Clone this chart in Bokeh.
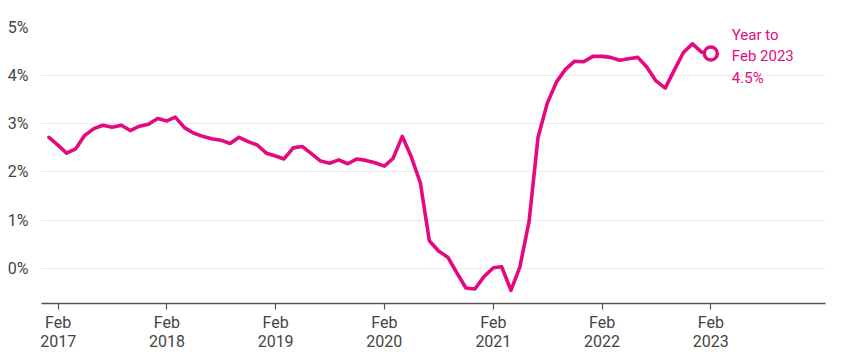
import pandas as pd
from bokeh.plotting import figure
from bokeh.models import (ColumnDataSource, FixedTicker, DatetimeTickFormatter,
                          Range1d, Label)
from bokeh.embed import file_html
from bokeh.resources import INLINE
from datetime import datetime

# ---- data ----
months = pd.date_range("2017-01-01", periods=74, freq="MS")
values = [
    # 2017
    2.72, 2.55, 2.39, 2.48, 2.76, 2.90, 2.97, 2.93, 2.97, 2.86, 2.95, 2.99,
    # 2018
    3.11, 3.06, 3.14, 2.92, 2.81, 2.74, 2.69, 2.66, 2.59, 2.72, 2.63, 2.56,
    # 2019
    2.39, 2.33, 2.27, 2.50, 2.53, 2.38, 2.23, 2.18, 2.25, 2.17, 2.27, 2.24,
    # 2020
    2.19, 2.12, 2.28, 2.74, 2.32, 1.77, 0.57, 0.36, 0.23, -0.09, -0.41, -0.43,
    # 2021
    -0.17, 0.01, 0.03, -0.46, 0.03, 0.98, 2.72, 3.43, 3.87, 4.13, 4.30, 4.29,
    # 2022
    4.40, 4.40, 4.38, 4.32, 4.35, 4.38, 4.18, 3.89, 3.74, 4.11, 4.48, 4.66,
    # 2023
    4.49, 4.46,
]
tick_years = [2017, 2018, 2019, 2020, 2021, 2022, 2023]
y_ticks = [0, 1, 2, 3, 4, 5]
y_tick_labels = ["0%", "1%", "2%", "3%", "4%", "5%"]
end_label = "Year to\nFeb 2023\n4.5%"

PINK = "#E5097F"
FONT = "Roboto"
TXT = "#444444"

def ms(d):
    return (pd.Timestamp(d) - pd.Timestamp("1970-01-01")) // pd.Timedelta("1ms")

src = ColumnDataSource(dict(x=months, y=values))
last = ColumnDataSource(dict(x=[months[-1]], y=[values[-1]]))

p = figure(frame_width=784, frame_height=276, x_axis_type="datetime",
           output_backend="svg", toolbar_location=None,
           x_range=Range1d(ms("2016-12-07"), ms("2024-02-21")),
           y_range=Range1d(-0.732, 5.0),
           min_border_left=41, min_border_top=27, min_border_right=8,
           min_border_bottom=0)
p.outline_line_color = None
p.background_fill_color = "white"
p.border_fill_color = "white"

p.line("x", "y", source=src, line_color=PINK, line_width=3.6,
       line_join="round", line_cap="round")
p.scatter("x", "y", source=last, size=13, line_color=PINK, line_width=3.4,
          fill_color="white")

lab = Label(x=ms(months[-1]), y=values[-1], text=end_label, x_offset=21,
            y_offset=-3,
            text_baseline="middle", text_align="left", text_color=PINK,
            text_font=FONT, text_font_size="15px", text_line_height=1.18)
p.add_layout(lab)

# x axis
xa = p.xaxis[0]
xa.ticker = FixedTicker(ticks=[ms(datetime(y, 2, 1)) for y in tick_years])
fmt = "%b\n%Y"
xa.formatter = DatetimeTickFormatter(
    milliseconds=fmt, seconds=fmt, minsec=fmt, minutes=fmt, hourmin=fmt,
    hours=fmt, days=fmt, months=fmt, years=fmt)
xa.axis_line_color = "#555555"
xa.axis_line_width = 1.5
xa.major_tick_line_color = "#555555"
xa.major_tick_line_width = 1.2
xa.major_tick_out = 6
xa.major_tick_in = 0
xa.minor_tick_line_color = None
xa.major_label_standoff = 3
xa.major_label_text_font = FONT
xa.major_label_text_font_size = "16px"
xa.major_label_text_color = TXT
xa.major_label_text_line_height = 1.05

# y axis
ya = p.yaxis[0]
ya.ticker = FixedTicker(ticks=y_ticks)
ya.major_label_overrides = {t: l for t, l in zip(y_ticks, y_tick_labels)}
ya.axis_line_color = None
ya.major_tick_line_color = None
ya.minor_tick_line_color = None
ya.major_tick_out = 0
ya.major_tick_in = 0
ya.major_label_standoff = 13
ya.major_label_text_font = FONT
ya.major_label_text_font_size = "16px"
ya.major_label_text_color = TXT

p.xgrid.grid_line_color = None
p.ygrid.grid_line_color = "#EBEBEB"
p.ygrid.grid_line_width = 1.2

open("out.html", "w").write(file_html(p, INLINE))
